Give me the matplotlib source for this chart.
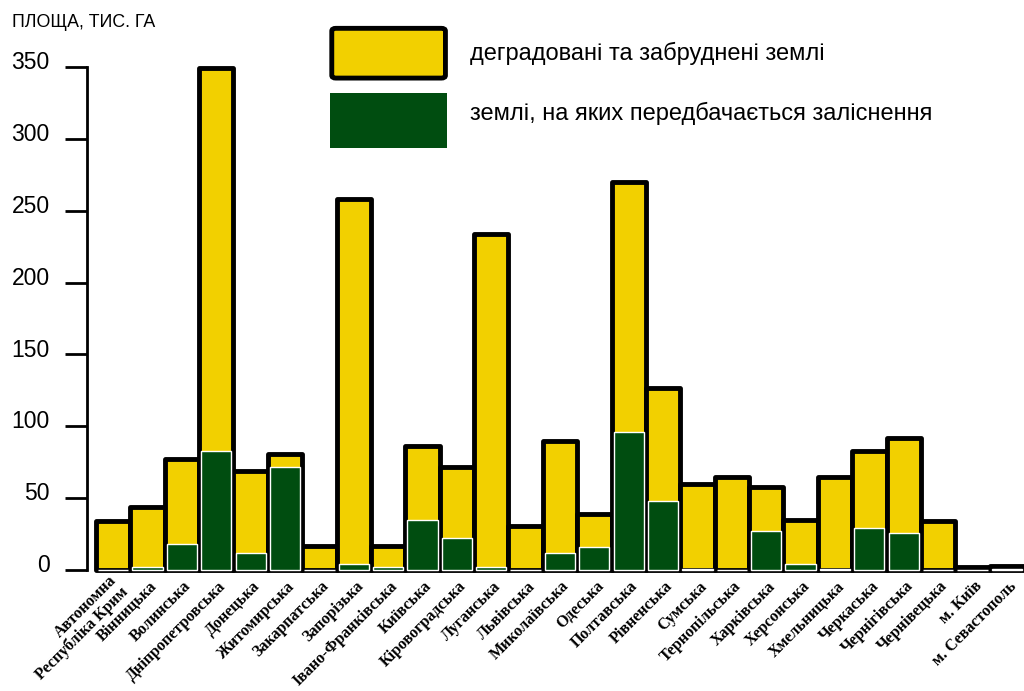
import numpy as np
import matplotlib
matplotlib.use('Agg')
import matplotlib.pyplot as plt
import matplotlib.transforms as mtransforms
from matplotlib.patches import FancyBboxPatch

regions = ['Автономна\nРеспубліка Крим', 'Вінницька', 'Волинська', 'Дніпропетровська',
           'Донецька', 'Житомирська', 'Закарпатська', 'Запорізька', 'Івано-Франківська',
           'Київська', 'Кіровоградська', 'Луганська', 'Львівська', 'Миколаївська',
           'Одеська', 'Полтавська', 'Рівненська', 'Сумська', 'Тернопільська',
           'Харківська', 'Херсонська', 'Хмельницька', 'Черкаська', 'Чернігівська',
           'Чернівецька', 'м. Київ', 'м. Севастополь']
degraded = [34, 44, 77, 349, 69, 81, 17, 258, 17, 86, 72, 234, 31, 90, 39, 270,
            127, 60, 65, 58, 35, 65, 83, 92, 34, 2, 3]
afforest = [0, 2, 18, 83, 12, 72, 0, 4.5, 2, 35, 22, 2, 0, 12, 16, 96,
            48, 1, 0, 27, 4.5, 1, 29, 26, 0, 0, 0.5]
yticks = [0, 50, 100, 150, 200, 250, 300, 350]
legend_labels = ['деградовані та забруднені землі', 'землі, на яких передбачається заліснення']

yellow = '#F2D000'
green = '#004D10'

plt.rcParams['font.family'] = ['Liberation Sans', 'DejaVu Sans']

fig = plt.figure(figsize=(10.24, 6.91), dpi=100)
ax = fig.add_axes([0.085, 0.175, 0.915, 0.728])

x = np.arange(len(regions))
ybars = ax.bar(x, degraded, width=1.0, color=yellow, edgecolor='black', linewidth=3.5, zorder=2)
for b in ybars:
    b.set_joinstyle('round')
    b.set_clip_on(False)
gbars = ax.bar(x, afforest, width=0.88, color=green, edgecolor='white', linewidth=1.0, zorder=3)
for b in gbars:
    b.set_clip_on(False)

ax.set_xlim(-0.76, 26.5)
ax.set_ylim(0, 350)
for s in ['top', 'right', 'bottom']:
    ax.spines[s].set_visible(False)
ax.spines['left'].set_linewidth(2)
ax.spines['left'].set_zorder(1)

ax.set_yticks(yticks)
ax.tick_params(axis='y', length=16, width=2, pad=11, labelsize=16.5)
offset = mtransforms.ScaledTranslation(0, 5 / 72, fig.dpi_scale_trans)
for lbl in ax.get_yticklabels():
    lbl.set_transform(lbl.get_transform() + offset)

ax.set_xticks(x)
ax.set_xticklabels(regions, rotation=45, ha='right', va='center', rotation_mode='anchor',
                   family=['Liberation Serif', 'DejaVu Serif'], fontweight='bold',
                   fontsize=11.5, linespacing=0.95)
ax.tick_params(axis='x', length=0, pad=0)
xoff = mtransforms.ScaledTranslation(5 / 72, -10 / 72, fig.dpi_scale_trans)
for lbl in ax.get_xticklabels():
    lbl.set_transform(lbl.get_transform() + xoff)

fig.text(0.012, 0.967, 'ПЛОЩА, ТИС. ГА', fontsize=12.8, va='center', ha='left')

# legend
fig.patches.append(FancyBboxPatch((0.324, 0.887), 0.111, 0.072, boxstyle='round,pad=0,rounding_size=0.004',
                                  facecolor=yellow, edgecolor='black', linewidth=3.5,
                                  transform=fig.transFigure, figure=fig))
fig.patches.append(FancyBboxPatch((0.322, 0.786), 0.115, 0.079, boxstyle='square,pad=0',
                                  facecolor=green, edgecolor='none',
                                  transform=fig.transFigure, figure=fig))
fig.text(0.459, 0.923, legend_labels[0], fontsize=17, va='center', ha='left')
fig.text(0.459, 0.836, legend_labels[1], fontsize=17, va='center', ha='left')

fig.savefig('out.png', dpi=100)
